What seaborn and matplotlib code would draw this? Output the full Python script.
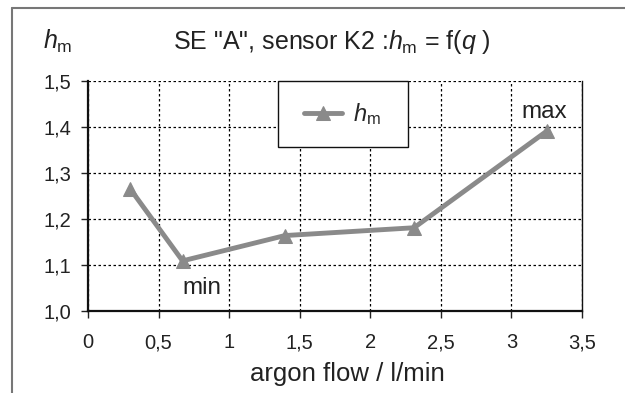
import matplotlib
matplotlib.use('Agg')
import matplotlib.pyplot as plt
from matplotlib.patches import Rectangle
from matplotlib.lines import Line2D
import seaborn as sns
import pandas as pd

# argon flow (l/min) vs h_m
flow = [0.30, 0.67, 1.395, 2.31, 3.25]
h_m = [1.265, 1.109, 1.164, 1.181, 1.391]

x_ticks = [0, 0.5, 1, 1.5, 2, 2.5, 3, 3.5]
x_tick_labels = ['0', '0,5', '1', '1,5', '2', '2,5', '3', '3,5']
y_ticks = [1.0, 1.1, 1.2, 1.3, 1.4, 1.5]
y_tick_labels = ['1,0', '1,1', '1,2', '1,3', '1,4', '1,5']

df = pd.DataFrame({'flow': flow, 'h_m': h_m})

sns.set_style('white')
plt.rcParams['font.family'] = ['Liberation Sans', 'DejaVu Sans']
plt.rcParams['mathtext.fontset'] = 'custom'
plt.rcParams['mathtext.rm'] = 'Liberation Sans'
plt.rcParams['mathtext.it'] = 'Liberation Sans:italic'

W, H = 625, 393
fig = plt.figure(figsize=(W / 100, H / 100), dpi=100)
ax = fig.add_axes([88 / W, 1 - 311 / H, (582 - 88) / W, (311 - 81) / H])

txt = '#222222'
line_col = '#8a8a8a'
sns.lineplot(data=df, x='flow', y='h_m', ax=ax, color=line_col, linewidth=3.5,
             marker='^', markersize=9.5, markeredgecolor=line_col,
             label='$h_{\\rm m}$', zorder=5)

ax.set_xlim(0, 3.5)
ax.set_ylim(1.0, 1.5)
ax.set_xticks(x_ticks)
ax.set_xticklabels(x_tick_labels)
ax.set_yticks(y_ticks)
ax.set_yticklabels(y_tick_labels)
ax.tick_params(axis='both', labelsize=14.5, colors=txt, length=5, width=1,
               direction='out', bottom=True, left=True)
ax.tick_params(axis='x', pad=11)
ax.tick_params(axis='y', pad=7)

ax.grid(True, color='black', linestyle=(0, (2, 2)), linewidth=0.9)
ax.spines['top'].set_visible(False)
for side in ['left', 'bottom']:
    ax.spines[side].set_color('#111111')
    ax.spines[side].set_linewidth(1.6)
ax.spines['right'].set_color('#111111')
ax.spines['right'].set_linewidth(1.0)
ax.set_xlabel('')
ax.set_ylabel('')

# legend box
ax.add_patch(Rectangle((0.384, 0.714), 0.263, 0.286, transform=ax.transAxes,
                       facecolor='white', edgecolor='#111111', linewidth=1.0,
                       zorder=6, clip_on=False))
leg = ax.legend(loc='center', bbox_to_anchor=(0.515, 0.857), frameon=False,
                fontsize=17, handlelength=1.6, handletextpad=0.5)
leg.set_zorder(7)

ax.text(3.23, 1.432, 'max', fontsize=17.5, ha='center', va='center', color=txt)
ax.text(0.806, 1.05, 'min', fontsize=17.5, ha='center', va='center', color=txt)

fig.text(347 / W, 1 - 381 / H, 'argon flow / l/min', fontsize=18.5,
         ha='center', va='baseline', color=txt)
fig.text(43 / W, 1 - 49 / H, '$h_{\\rm m}$', fontsize=18, ha='left', va='baseline', color=txt)
fig.text(332 / W, 1 - 49 / H, 'SE "A", sensor K2 :$h_{\\rm m}$ = f($q$ )', fontsize=18,
         ha='center', va='baseline', color=txt)

# outer frame (left and top edges visible)
fig.add_artist(Line2D([12 / W, 12 / W], [0, 1 - 8 / H], transform=fig.transFigure,
                      color='#777777', linewidth=1.5))
fig.add_artist(Line2D([12 / W, 1], [1 - 8 / H, 1 - 8 / H], transform=fig.transFigure,
                      color='#777777', linewidth=1.5))

fig.savefig('out.png', dpi=100)
